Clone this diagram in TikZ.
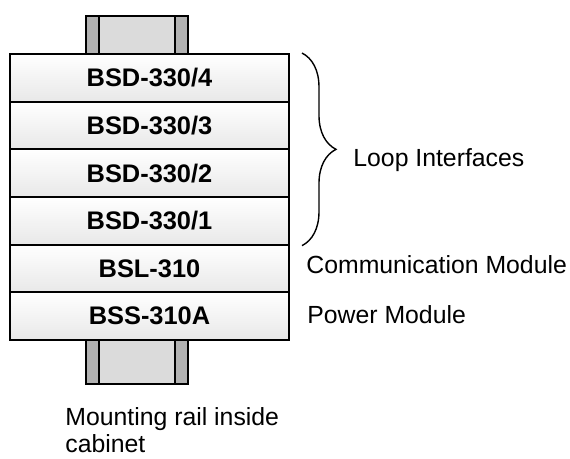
\documentclass[tikz,border=0pt]{standalone}
\usepackage{fontspec}
\setmainfont{Liberation Sans}
\usetikzlibrary{decorations.pathreplacing}

\tikzset{
    module/.style={draw, line width=1pt, top color=white, bottom color=gray!18, minimum width=139.5pt, minimum height=23.8pt, inner sep=0pt, font=\fontsize{12.7}{14}\selectfont\bfseries},
    rail/.style={draw, line width=0.8pt, fill=gray!28},
    railedge/.style={draw, line width=0.8pt, fill=gray!60},
    note/.style={font=\fontsize{12.4}{13.6}\selectfont, inner sep=0pt}
}

\begin{document}
\begin{tikzpicture}[x=0.5pt, y=-0.5pt]
        \useasboundingbox (0,0) rectangle (570,459);
        % mounting rail, above and below the stack
        \foreach \ytop/\ybot in {16/54, 340/384}{
            \draw[rail] (86,\ytop) rectangle (188,\ybot);
            \draw[railedge] (86,\ytop) rectangle (99,\ybot);
            \draw[railedge] (175,\ytop) rectangle (188,\ybot);
        }
        % module stack
        \foreach \i/\name/\labeltext in {1/bsd4/{BSD-330/4}, 2/bsd3/{BSD-330/3}, 3/bsd2/{BSD-330/2}, 4/bsd1/{BSD-330/1}, 5/bsl/BSL-310, 6/bss/BSS-310A}{
            \node[module] (\name) at (149.5, 54+47.67*\i-23.83) {\labeltext};
        }
        \draw[line width=0.7pt, decorate, decoration={brace, amplitude=17pt}] ([xshift=6pt]bsd4.north east) -- ([xshift=6pt]bsd1.south east) coordinate (braceend);
        \node[note, anchor=base west] (loops) at (353,167) {Loop Interfaces};
        \node[note, anchor=base west] (comm) at (306,274) {Communication Module};
        \node[note, anchor=base west] (power) at (307,324) {Power Module};
        \node[note, anchor=base west, align=left] (railtext) at (65,453) {Mounting rail inside\\cabinet};
    \end{tikzpicture}
\end{document}
